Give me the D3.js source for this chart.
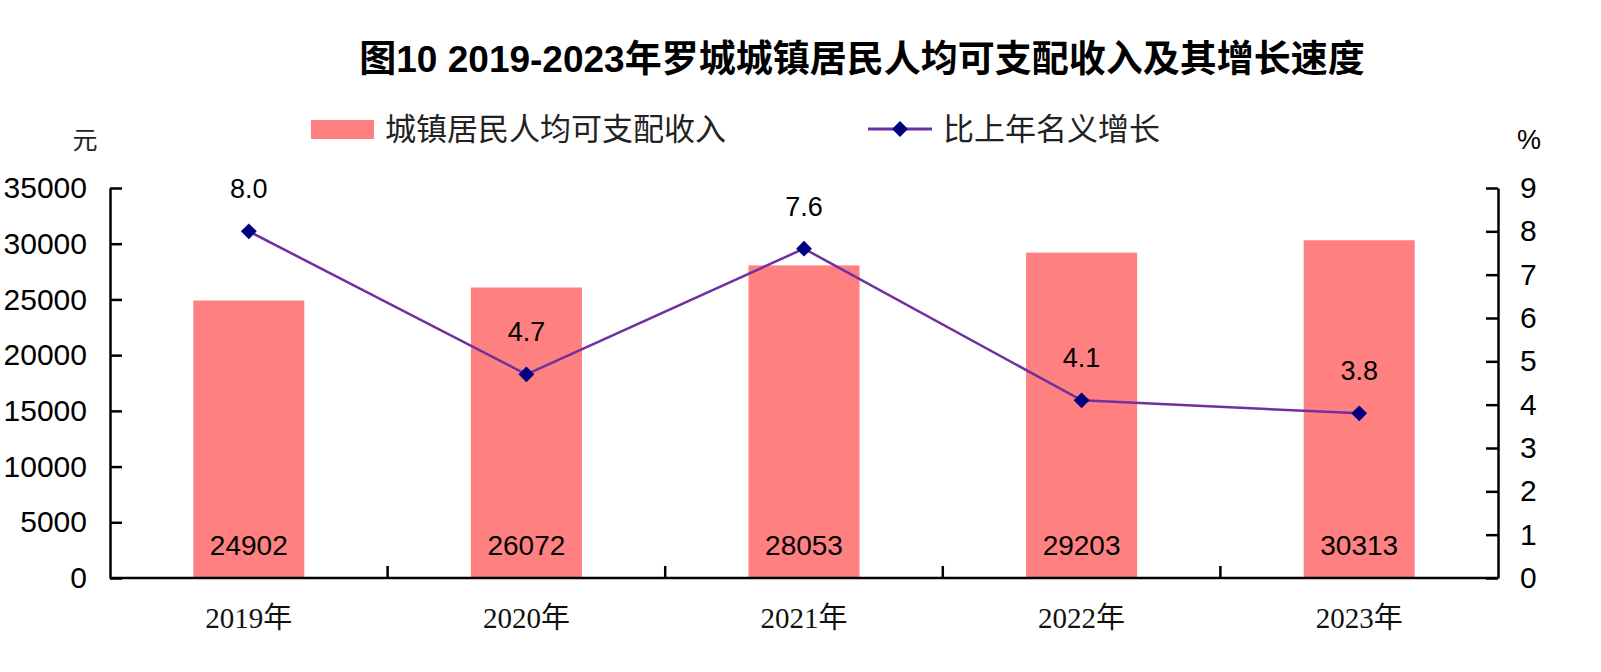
<!DOCTYPE html>
<html lang="zh">

<head>
    <meta charset="UTF-8">
    <title>罗城城镇居民人均可支配收入</title>
    <style>
        body {
            margin: 0;
            background: #fff;
        }

        svg {
            display: block;
        }
    </style>
</head>

<body>
    <div id="chart"></div>

    <script src="https://d3js.org/d3.v7.min.js"></script>
    <script>
        // 数据
        const years = ['2019年', '2020年', '2021年', '2022年', '2023年'];
        const income = [24902, 26072, 28053, 29203, 30313];
        const growth = [8.0, 4.7, 7.6, 4.1, 3.8];
        const leftTicks = [0, 5000, 10000, 15000, 20000, 25000, 30000, 35000];
        const rightTicks = [0, 1, 2, 3, 4, 5, 6, 7, 8, 9];

        const width = 1601;
        const height = 672;
        const margin = { top: 188, right: 103, bottom: 94, left: 110 };
        const innerWidth = width - margin.left - margin.right;
        const innerHeight = height - margin.top - margin.bottom;

        const sans = '"Liberation Sans", Arial, "Noto Sans CJK SC", sans-serif';
        const cjk = '"Noto Sans CJK SC", "Liberation Sans", sans-serif';
        const serif = '"Liberation Serif", "Times New Roman", "Noto Sans CJK SC", serif';

        const svg = d3.select('#chart')
            .append('svg')
            .attr('width', width)
            .attr('height', height);

        // 标题
        svg.append('text')
            .text('图10 2019-2023年罗城城镇居民人均可支配收入及其增长速度')
            .attr('x', 862)
            .attr('y', 72)
            .attr('text-anchor', 'middle')
            .attr('font-family', sans)
            .attr('font-weight', 'bold')
            .attr('font-size', 37);

        // 图例
        const legend = svg.append('g').attr('font-family', cjk).attr('font-size', 31);
        legend.append('rect')
            .attr('x', 311).attr('y', 120)
            .attr('width', 63).attr('height', 19)
            .attr('fill', '#FF8080');
        legend.append('text')
            .text('城镇居民人均可支配收入')
            .attr('x', 385).attr('y', 140)
            .attr('fill', '#222');
        legend.append('line')
            .attr('x1', 868).attr('x2', 932)
            .attr('y1', 129).attr('y2', 129)
            .attr('stroke', '#7030A0')
            .attr('stroke-width', 3);
        legend.append('path')
            .attr('d', d3.symbol(d3.symbolDiamond2, 160)())
            .attr('transform', 'translate(900,129)')
            .attr('fill', '#000080');
        legend.append('text')
            .text('比上年名义增长')
            .attr('x', 943).attr('y', 140)
            .attr('fill', '#222');

        // 单位
        svg.append('text')
            .text('元')
            .attr('x', 85).attr('y', 149)
            .attr('text-anchor', 'middle')
            .attr('font-family', cjk)
            .attr('font-size', 25)
            .attr('fill', '#222');
        svg.append('text')
            .text('%')
            .attr('x', 1529).attr('y', 149)
            .attr('text-anchor', 'middle')
            .attr('font-family', sans)
            .attr('font-size', 27);

        const g = svg.append('g')
            .attr('transform', `translate(${margin.left}, ${margin.top})`);

        // 比例尺
        const x = d3.scaleBand().domain(years).range([0, innerWidth]).padding(0);
        const y = d3.scaleLinear().domain([0, 35000]).range([innerHeight, 0]);
        const y2 = d3.scaleLinear().domain([0, 9]).range([innerHeight, 0]);
        const barW = x.bandwidth() * 0.4;

        // 柱子
        g.append('g')
            .selectAll('rect')
            .data(income)
            .join('rect')
            .attr('x', (d, i) => x(years[i]) + (x.bandwidth() - barW) / 2)
            .attr('y', d => y(d))
            .attr('width', barW)
            .attr('height', d => innerHeight - y(d))
            .attr('fill', '#FF8080');

        // 柱内数值
        g.append('g')
            .selectAll('text')
            .data(income)
            .join('text')
            .text(d => d)
            .attr('x', (d, i) => x(years[i]) + x.bandwidth() / 2)
            .attr('y', innerHeight - 23)
            .attr('text-anchor', 'middle')
            .attr('font-family', sans)
            .attr('font-size', 28);

        // 左轴
        const axisL = g.append('g')
            .call(d3.axisLeft(y).tickValues(leftTicks).tickFormat(d3.format('d'))
                .tickSize(-12).tickSizeOuter(0).tickPadding(23));
        // 右轴
        const axisR = g.append('g')
            .attr('transform', `translate(${innerWidth},0)`)
            .call(d3.axisRight(y2).tickValues(rightTicks).tickFormat(d3.format('d'))
                .tickSize(-12).tickSizeOuter(0).tickPadding(22));

        [axisL, axisR].forEach(a => {
            a.selectAll('path, line').attr('stroke', '#000').attr('stroke-width', 2.5);
            a.selectAll('text')
                .attr('font-family', sans)
                .attr('font-size', 30)
                .attr('fill', '#000');
        });

        // X 轴
        g.append('line')
            .attr('x1', 0).attr('x2', innerWidth)
            .attr('y1', innerHeight).attr('y2', innerHeight)
            .attr('stroke', '#000')
            .attr('stroke-width', 2.5);
        g.append('g')
            .selectAll('line')
            .data(years.slice(1))
            .join('line')
            .attr('x1', d => x(d)).attr('x2', d => x(d))
            .attr('y1', innerHeight).attr('y2', innerHeight - 12)
            .attr('stroke', '#000')
            .attr('stroke-width', 2.5);
        g.append('g')
            .selectAll('text')
            .data(years)
            .join('text')
            .text(d => d)
            .attr('x', d => x(d) + x.bandwidth() / 2)
            .attr('y', innerHeight + 50)
            .attr('text-anchor', 'middle')
            .attr('font-family', serif)
            .attr('font-size', 29)
            .attr('fill', '#111');

        // 折线
        const line = d3.line()
            .x((d, i) => x(years[i]) + x.bandwidth() / 2)
            .y(d => y2(d));

        g.append('path')
            .datum(growth)
            .attr('d', line)
            .attr('fill', 'none')
            .attr('stroke', '#7030A0')
            .attr('stroke-width', 2.5);

        g.append('g')
            .selectAll('path')
            .data(growth)
            .join('path')
            .attr('d', d3.symbol(d3.symbolDiamond2, 160)())
            .attr('transform', (d, i) => `translate(${x(years[i]) + x.bandwidth() / 2},${y2(d)})`)
            .attr('fill', '#000080');

        g.append('g')
            .selectAll('text')
            .data(growth)
            .join('text')
            .text(d => d.toFixed(1))
            .attr('x', (d, i) => x(years[i]) + x.bandwidth() / 2)
            .attr('y', d => y2(d) - 33)
            .attr('text-anchor', 'middle')
            .attr('font-family', sans)
            .attr('font-size', 27);
    </script>
</body>

</html>
